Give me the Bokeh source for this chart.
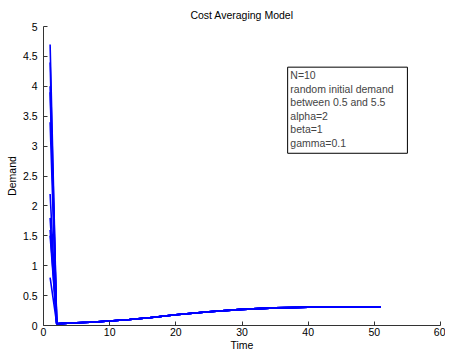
from bokeh.plotting import figure
from bokeh.models import Label, Range1d, FixedTicker, BoxAnnotation
from bokeh.embed import file_html
from bokeh.resources import INLINE

# Data
time = [1, 2, 3, 5, 7, 10, 13, 16, 20, 25, 30, 35, 40, 45, 51]
initial_demand = [4.7, 4.4, 4.0, 3.9, 3.4, 2.2, 1.8, 1.6, 1.5, 0.8]
tail = [0.03, 0.035, 0.045, 0.055, 0.075, 0.10, 0.13, 0.18, 0.23, 0.27, 0.295, 0.305, 0.305, 0.305]
x_ticks = [0, 10, 20, 30, 40, 50, 60]
y_ticks = [0, 0.5, 1, 1.5, 2, 2.5, 3, 3.5, 4, 4.5, 5]
note = "N=10\nrandom initial demand\nbetween 0.5 and 5.5\nalpha=2\nbeta=1\ngamma=0.1"

FONT = "Liberation Sans"
FS = "10.5px"

p = figure(width=445, height=353, output_backend="svg", toolbar_location=None,
           x_range=Range1d(0, 60), y_range=Range1d(0, 5),
           min_border_left=43, min_border_right=5, min_border_bottom=27, min_border_top=0)
p.title.text = "Cost Averaging Model"
p.title.align = "center"
p.title.text_font = FONT
p.title.text_font_size = FS
p.title.text_font_style = "normal"
p.title.text_color = "#000000"
p.title.offset = 0
p.title.standoff = 12
p.title.padding = 0

for d0 in initial_demand:
    p.line(time, [d0] + tail, line_color="#0000ff", line_width=1.6)

p.outline_line_color = None
p.xgrid.visible = False
p.ygrid.visible = False
p.background_fill_color = "white"
p.border_fill_color = "white"

for ax in (p.xaxis[0], p.yaxis[0]):
    ax.axis_line_color = "#333333"
    ax.major_tick_line_color = "#333333"
    ax.major_tick_in = 4
    ax.major_tick_out = 0
    ax.minor_tick_line_color = None
    ax.major_label_text_font = FONT
    ax.major_label_text_font_size = FS
    ax.major_label_text_color = "#000000"
    ax.axis_label_text_font = FONT
    ax.axis_label_text_font_size = FS
    ax.axis_label_text_font_style = "normal"
    ax.axis_label_text_color = "#000000"

p.xaxis[0].ticker = FixedTicker(ticks=x_ticks)
p.yaxis[0].ticker = FixedTicker(ticks=y_ticks)
p.xaxis[0].axis_label = "Time"
p.yaxis[0].axis_label = "Demand"
p.xaxis[0].major_label_standoff = 2
p.xaxis[0].axis_label_standoff = 0
p.yaxis[0].major_label_standoff = 6
p.yaxis[0].axis_label_standoff = 2

# annotation box
p.add_layout(BoxAnnotation(left=36.9, right=55.0, top=4.32, bottom=2.88,
                           fill_color="white", fill_alpha=1.0,
                           line_color="#000000", line_alpha=1.0, line_width=1,
                           level="overlay"))
p.add_layout(Label(x=37.3, y=4.29, text=note, text_font=FONT, text_font_size=FS,
                   text_baseline="top", text_align="left", text_line_height=1.13,
                   level="overlay"))

open("out.html", "w").write(file_html(p, INLINE))
